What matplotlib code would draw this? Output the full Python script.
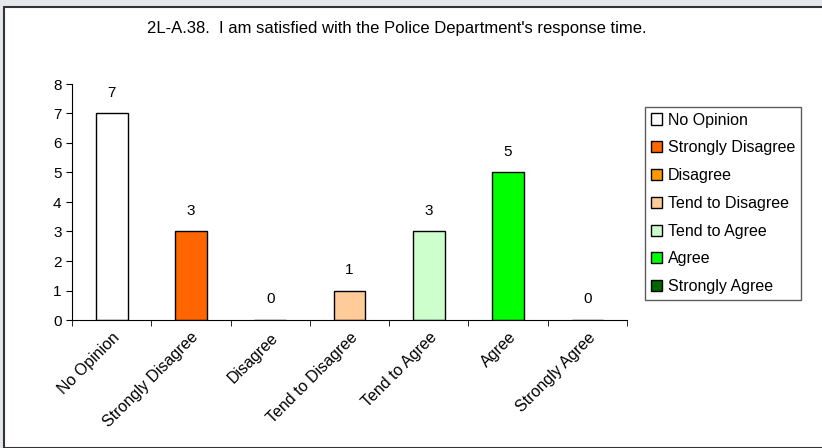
import matplotlib.pyplot as plt
from matplotlib.patches import Rectangle
import numpy as np

plt.rcParams['font.family'] = ['Liberation Sans', 'DejaVu Sans']

categories = ['No Opinion', 'Strongly Disagree', 'Disagree', 'Tend to Disagree',
              'Tend to Agree', 'Agree', 'Strongly Agree']
counts = [7, 3, 0, 1, 3, 5, 0]
colors = ['#ffffff', '#ff6600', '#ff9900', '#ffcc99', '#ccffcc', '#00ff00', '#006600']
title = "2L-A.38.  I am satisfied with the Police Department's response time."

W, H = 822, 448
fig = plt.figure(figsize=(W / 100, H / 100), dpi=100)
fig.patch.set_facecolor('#e4e8ec')

# white panel with dark border
panel = Rectangle((4 / W, 0), 1, 1 - 7 / H, transform=fig.transFigure,
                  facecolor='white', edgecolor='#333333', linewidth=1.5, zorder=-10)
fig.patches.append(panel)

ax = fig.add_axes([72 / W, 1 - 320 / H, (627 - 72) / W, (320 - 84) / H])
ax.set_facecolor('none')
ax.set_zorder(1)
x = np.arange(len(categories))
for i, (c, v, col) in enumerate(zip(categories, counts, colors)):
    ax.bar(i, v, width=0.4, color=col, edgecolor='black', linewidth=1, label=c)
    ax.text(i, v + 0.7, str(v), ha='center', va='center', fontsize=11)

ax.set_xlim(-0.5, len(categories) - 0.5)
ax.set_ylim(0, 8)
ax.set_yticks(range(0, 9))
ax.set_xticks(x)
ax.set_xticklabels(categories, rotation=45, ha='right', rotation_mode='anchor', fontsize=11.5)
ax.set_xticks(np.arange(-0.5, len(categories)), minor=True)
ax.tick_params(axis='x', which='major', length=0, pad=7)
ax.tick_params(axis='x', which='minor', length=4, direction='out')
ax.tick_params(axis='y', length=4, direction='out', labelsize=11)
ax.spines['top'].set_visible(False)
ax.spines['right'].set_visible(False)
ax.spines['left'].set_color('black')
ax.spines['bottom'].set_color('black')

fig.text(397 / W, 1 - 28 / H, title, ha='center', va='center', fontsize=12)

leg = ax.legend(loc='upper left', bbox_to_anchor=(645 / W, 1 - 107 / H),
                bbox_transform=fig.transFigure, fontsize=11.5, frameon=True,
                fancybox=False, edgecolor='#333333', handlelength=0.7,
                handleheight=0.7, handletextpad=0.4, labelspacing=0.8,
                borderpad=0.35, borderaxespad=0)
leg.get_frame().set_linewidth(1)

fig.savefig('out.png', dpi=100)
